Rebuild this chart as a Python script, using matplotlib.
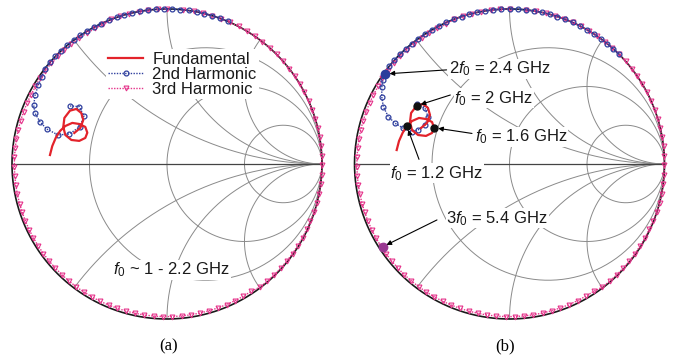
import numpy as np
import matplotlib.pyplot as plt

plt.rcParams['font.family'] = ['Liberation Sans', 'DejaVu Sans']
plt.rcParams['mathtext.fontset'] = 'custom'
plt.rcParams['mathtext.rm'] = 'Liberation Sans'
plt.rcParams['mathtext.it'] = 'Liberation Sans:italic'

# Smith chart grid values (normalised resistance / reactance)
r_grid = [1 / 3, 1, 3]
x_grid = [0.5, 1, 2]

# ---- panel (a): reflection coefficients ----
# fundamental, f0 = 1 ... 2.2 GHz (real, imag)
fund_a_re = [-0.755, -0.740, -0.718, -0.690, -0.656, -0.611, -0.566, -0.527,
             -0.514, -0.527, -0.566, -0.617, -0.656, -0.669, -0.662, -0.626,
             -0.585, -0.553, -0.540, -0.559, -0.598]
fund_a_im = [0.058, 0.116, 0.168, 0.213, 0.245, 0.265, 0.258, 0.239,
             0.202, 0.168, 0.149, 0.155, 0.187, 0.239, 0.297, 0.344,
             0.355, 0.329, 0.284, 0.233, 0.200]
# 2nd harmonic: angle (deg) and magnitude of each marker
h2_a_ang = [67, 70, 73, 76, 79, 82, 85, 88, 91, 94, 97, 100, 103, 106, 109,
            112, 115, 118, 121, 124, 127, 130, 133, 136, 139, 142,
            145.1, 148.5, 152.4, 156.2, 158.9, 161.6, 163.8, 165.1, 162.9,
            156.8, 150.0, 146.8, 149.1]
h2_a_mag = [1.0] * 26 + [0.985, 0.974, 0.96, 0.94, 0.913, 0.864, 0.808,
                         0.726, 0.659, 0.611, 0.619, 0.676, 0.729]
# 3rd harmonic: angle (deg) and magnitude of each marker
h3_a_ang = [84, 80, 76.5, 73, 69.5, 66, 62.5, 59, 55.5, 52, 48.5, 45, 41.5,
            38, 34.5, 31, 27.5, 24, 20.5, 17, 13.5, 10, 6.5, 3, -0.5, -4,
            -7.5, -11, -14.5, -18, -21.5, -25, -28.5, -32, -35.5, -39, -42.5,
            -46, -49.5, -53, -56.5, -60, -63.5, -67, -70.5, -74, -77.5, -81,
            -84.5, -88, -91.5, -95, -98.5, -102, -105.5, -109, -112.5, -116,
            -119.5, -123, -126.5, -130, -133.5, -137, -140.5, -144, -147.5,
            -151, -154.5, -158, -161.5, -165, -168.5, -172, -175.5, -179,
            -182.5, -186, -189.5, -193, -196.5, -200, -203.5, -207, -210.5,
            -214, -217.5, -221, -224.5, -228, -231.5, -235, -238.5, -242,
            -245.5, -249, -252.5, -256, -259.5, -263, -266.5, -270]
h3_a_mag = ([1.0] * 30 + [0.995] * 10 + [0.985] * 30 + [0.985] * 15
            + [0.99] * 10 + [1.0] * 7)

# ---- panel (b) ----
fund_b_re = [-0.728, -0.713, -0.690, -0.663, -0.629, -0.584, -0.539, -0.500,
             -0.487, -0.500, -0.539, -0.590, -0.629, -0.642, -0.635, -0.599,
             -0.558, -0.526, -0.513, -0.532, -0.571]
fund_b_im = [0.090, 0.148, 0.200, 0.245, 0.277, 0.297, 0.290, 0.271,
             0.234, 0.200, 0.181, 0.187, 0.219, 0.271, 0.329, 0.376,
             0.387, 0.361, 0.316, 0.265, 0.232]
h2_b_ang = [45, 48, 51, 54, 57, 60, 63, 66, 69, 72, 75, 78, 81, 84, 87, 90,
            93, 96, 99, 102, 105, 108, 111, 114, 117, 120, 123, 126, 129,
            132, 135, 138, 141, 144, 146.5, 148.8, 152.2, 155.6, 158.7,
            160.4, 161.4, 161.7, 159.6, 155.2, 149.9, 146.5, 147.0]
h2_b_mag = [1.0] * 33 + [0.99, 0.98, 0.963, 0.932, 0.894, 0.839, 0.784,
                         0.723, 0.665, 0.63, 0.60, 0.608, 0.654, 0.711]
h3_b_ang = h3_a_ang
h3_b_mag = h3_a_mag

# highlighted points in (b)
f0_pts_re = [-0.663, -0.487, -0.599]      # 1.2, 1.6, 2 GHz
f0_pts_im = [0.245, 0.234, 0.376]
p2_re, p2_im = -0.801, 0.581              # 2f0 = 2.4 GHz
p3_re, p3_im = -0.818, -0.534             # 3f0 = 5.4 GHz

RED = '#e3232b'
BLUE = '#2f3f9e'
PINK = '#e5338a'
GRAY = '#8a8a8a'
FS = 12


def polar(ang, mag):
    a = np.radians(ang)
    return np.array(mag) * np.cos(a), np.array(mag) * np.sin(a)


def smith_grid(ax):
    t = np.linspace(0, 2 * np.pi, 500)
    for r in r_grid:
        c, rad = r / (1 + r), 1 / (1 + r)
        ax.plot(c + rad * np.cos(t), rad * np.sin(t), color=GRAY, lw=0.7, zorder=1)
    rr = np.concatenate([np.linspace(0, 1, 200), np.logspace(0, 4, 300)])
    for x in x_grid:
        for s in (1, -1):
            z = rr + 1j * s * x
            g = (z - 1) / (z + 1)
            ax.plot(g.real, g.imag, color=GRAY, lw=0.7, zorder=1)
    ax.plot([-1, 1], [0, 0], color='#444444', lw=0.9, zorder=1)
    ax.plot(np.cos(t), np.sin(t), color='#1a1a1a', lw=1.2, zorder=1)
    ax.set_xlim(-1.05, 1.05)
    ax.set_ylim(-1.05, 1.05)
    ax.axis('off')


def curves(ax, fre, fim, a2, m2, a3, m3):
    x3, y3 = polar(a3, m3)
    p3, = ax.plot(x3, y3, color=PINK, ls=(0, (1, 1)), lw=1.0, marker='v',
                  ms=3.5, mfc='none', mec=PINK, mew=0.8, zorder=2, clip_on=False)
    x2, y2 = polar(a2, m2)
    p2, = ax.plot(x2, y2, color=BLUE, ls=(0, (1, 1)), lw=1.0, marker='o',
                  ms=3.5, mfc='none', mec=BLUE, mew=0.9, zorder=3, clip_on=False)
    p1, = ax.plot(fre, fim, color=RED, lw=1.6, zorder=4)
    return p1, p2, p3


fig = plt.figure(figsize=(6.74, 3.61), dpi=100)
ax_a = fig.add_axes([0.0063, 0.0949, 0.4829, 0.9017])
ax_b = fig.add_axes([0.5145, 0.0949, 0.4829, 0.9017])

# (a)
smith_grid(ax_a)
h1, h2, h3 = curves(ax_a, fund_a_re, fund_a_im, h2_a_ang, h2_a_mag, h3_a_ang, h3_a_mag)
leg = ax_a.legend([h1, h2, h3], ['Fundamental', '2nd Harmonic', '3rd Harmonic'],
                  loc='upper left', bbox_to_anchor=(0.312, 0.852), frameon=True,
                  fontsize=FS, handlelength=2.1, handletextpad=0.55,
                  labelspacing=0.0, borderpad=0.15, borderaxespad=0)
leg.get_frame().set_facecolor('white')
leg.get_frame().set_edgecolor('none')
leg.get_frame().set_alpha(1)
leg.set_zorder(6)
for t in leg.get_texts():
    t.set_color('#1a1a1a')
ax_a.text(-0.346, -0.684, r'$f_0$' + ' ~ 1 - 2.2 GHz', fontsize=FS, va='center',
          ha='left', color='#1a1a1a', zorder=6,
          bbox=dict(facecolor='white', edgecolor='none', pad=0.5))

# (b)
smith_grid(ax_b)
curves(ax_b, fund_b_re, fund_b_im, h2_b_ang, h2_b_mag, h3_b_ang, h3_b_mag)
ax_b.plot(f0_pts_re, f0_pts_im, 'o', color='#111111', ms=5, zorder=5)
ax_b.plot(p2_re, p2_im, 'o', color='#2a3c9c', ms=6, zorder=5)
ax_b.plot(p3_re, p3_im, 'o', color='#993a92', ms=6, zorder=5)

labels = [(r'2$f_0$ = 2.4 GHz', -0.392, 0.613, (-0.406, 0.607), (p2_re, p2_im)),
          (r'$f_0$ = 2 GHz', -0.356, 0.424, (-0.382, 0.445), (f0_pts_re[2], f0_pts_im[2])),
          (r'$f_0$ = 1.6 GHz', -0.221, 0.176, (-0.242, 0.197), (f0_pts_re[1], f0_pts_im[1])),
          (r'$f_0$ = 1.2 GHz', -0.769, -0.06, (-0.584, 0.030), (f0_pts_re[0], f0_pts_im[0])),
          (r'3$f_0$ = 5.4 GHz', -0.408, -0.35, (-0.468, -0.361), (p3_re, p3_im))]
for txt, tx, ty, tail, head in labels:
    ax_b.text(tx, ty, txt, fontsize=FS, va='center', ha='left', color='#1a1a1a',
              zorder=6, bbox=dict(facecolor='white', edgecolor='none', pad=0.5))
    ax_b.annotate('', xy=head, xytext=tail, zorder=7,
                  arrowprops=dict(arrowstyle='-|>', color='black', lw=0.8,
                                  mutation_scale=7, shrinkA=0, shrinkB=3))

fig.text(0.250, 0.04, '(a)', fontsize=12, family='Liberation Serif', ha='center', va='center')
fig.text(0.750, 0.04, '(b)', fontsize=12, family='Liberation Serif', ha='center', va='center')

fig.savefig('out.png', dpi=100)
